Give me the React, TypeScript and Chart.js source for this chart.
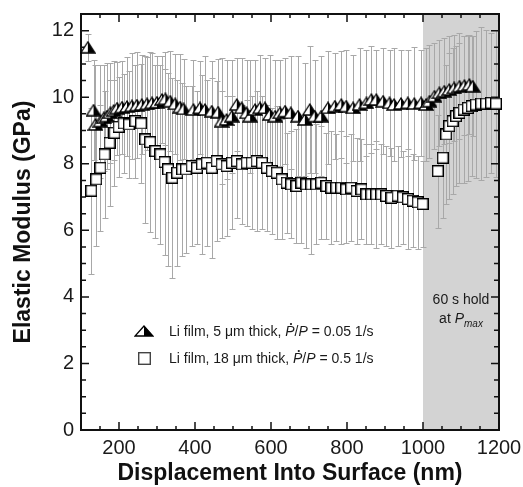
import React, { useEffect, useRef } from "react";
import { Chart, registerables } from "chart.js";

Chart.register(...registerables);

// ---------------- DATA ----------------
// Li film, 5 µm thick (half-filled triangles)
const triX = [118, 133, 138, 151, 160, 168, 177, 186, 195, 208, 221, 234, 247, 260, 274, 287, 300, 313, 322, 335, 348, 361, 370, 396, 413, 426, 444, 461, 470, 483, 497, 510, 523, 536, 545, 558, 571, 584, 597, 611, 624, 637, 652, 671, 689, 702, 715, 732, 750, 768, 785, 798, 816, 833, 851, 864, 877, 895, 912, 924, 942, 960, 977, 995, 1008, 1017, 1030, 1043, 1056, 1069, 1082, 1096, 1109, 1122, 1131];
const triY = [11.5, 9.61, 9.18, 9.28, 9.38, 9.43, 9.53, 9.6, 9.67, 9.7, 9.72, 9.74, 9.76, 9.78, 9.8, 9.83, 9.85, 9.93, 9.95, 9.88, 9.8, 9.7, 9.65, 9.63, 9.68, 9.63, 9.58, 9.55, 9.28, 9.33, 9.43, 9.78, 9.68, 9.53, 9.43, 9.63, 9.68, 9.68, 9.48, 9.43, 9.53, 9.58, 9.53, 9.43, 9.33, 9.63, 9.43, 9.43, 9.68, 9.73, 9.78, 9.73, 9.68, 9.78, 9.83, 9.93, 9.93, 9.88, 9.83, 9.78, 9.81, 9.83, 9.81, 9.83, 9.78, 9.88, 10.03, 10.13, 10.18, 10.23, 10.28, 10.33, 10.35, 10.38, 10.33];
const triErr = [0.4, 1.5, 1.8, 1.7, 1.6, 1.6, 1.5, 1.5, 1.4, 1.4, 1.5, 1.6, 1.6, 1.5, 1.4, 1.5, 1.4, 1.3, 1.4, 1.5, 1.5, 1.6, 1.5, 1.5, 1.4, 1.6, 1.5, 1.6, 1.9, 1.8, 1.7, 1.4, 1.5, 1.6, 1.7, 1.5, 1.6, 1.5, 1.8, 1.7, 1.6, 1.6, 1.7, 1.8, 1.7, 1.9, 1.7, 1.8, 1.7, 1.6, 1.6, 1.7, 1.6, 1.7, 1.6, 1.6, 1.5, 1.6, 1.6, 1.7, 1.6, 1.6, 1.7, 1.6, 1.7, 1.7, 1.6, 1.6, 1.6, 1.6, 1.6, 1.6, 1.5, 1.5, 1.5];

// Li film, 18 µm thick (open squares)
const sqX = [127, 140, 151, 162, 175, 188, 199, 212, 226, 243, 258, 269, 282, 296, 309, 320, 329, 340, 353, 366, 376, 391, 405, 418, 431, 444, 457, 470, 483, 497, 510, 523, 536, 549, 562, 576, 589, 602, 615, 628, 641, 653, 667, 680, 693, 706, 719, 732, 746, 759, 772, 785, 798, 811, 825, 838, 851, 864, 877, 890, 903, 917, 933, 947, 960, 973, 986, 999, 1039, 1052, 1061, 1069, 1078, 1087, 1096, 1107, 1118, 1128, 1139, 1153, 1166, 1179, 1192];
const sqY = [7.19, 7.53, 7.88, 8.28, 8.63, 8.93, 9.11, 9.21, 9.18, 9.28, 9.21, 8.73, 8.65, 8.38, 8.28, 8.05, 7.83, 7.58, 7.73, 7.83, 7.83, 7.93, 7.88, 7.98, 8.03, 7.88, 8.08, 7.98, 7.93, 8.03, 8.08, 7.98, 8.03, 8.03, 8.08, 8.03, 7.88, 7.78, 7.73, 7.53, 7.43, 7.38, 7.33, 7.43, 7.38, 7.38, 7.38, 7.43, 7.33, 7.28, 7.28, 7.28, 7.23, 7.28, 7.18, 7.23, 7.08, 7.08, 7.08, 7.08, 7.03, 6.98, 7.04, 6.99, 6.94, 6.89, 6.84, 6.79, 7.78, 8.18, 8.88, 9.13, 9.28, 9.43, 9.53, 9.63, 9.68, 9.73, 9.78, 9.81, 9.81, 9.83, 9.81];
const sqErr = [2.5, 2.0, 1.9, 1.9, 1.9, 1.6, 1.5, 1.5, 1.6, 1.7, 1.8, 2.5, 2.7, 2.6, 2.7, 2.8, 2.9, 3.0, 2.8, 2.6, 2.5, 2.4, 2.3, 2.7, 2.5, 2.7, 2.4, 2.2, 2.1, 2.0, 1.7, 1.8, 1.9, 2.0, 2.1, 2.0, 1.9, 1.9, 2.0, 1.8, 1.5, 1.6, 1.7, 1.8, 1.9, 2.1, 1.8, 1.7, 1.6, 1.7, 1.6, 1.7, 1.6, 1.6, 1.6, 1.5, 1.5, 1.5, 1.6, 1.5, 1.5, 1.5, 1.5, 1.4, 1.5, 1.4, 1.4, 1.3, 1.7, 1.8, 2.1, 2.2, 2.2, 2.1, 2.1, 2.2, 2.2, 2.1, 2.2, 2.3, 2.2, 2.1, 2.2];

const xTickValues = [200, 400, 600, 800, 1000, 1200];
const yTickValues = [0, 2, 4, 6, 8, 10, 12];
const xRange = [100, 1200];
const yRange = [0, 12.5];
const holdRange = [1000, 1200];

const xTitle = "Displacement Into Surface (nm)";
const yTitle = "Elastic Modulus (GPa)";

type Seg = { t: string; italic?: boolean; sub?: boolean; dot?: boolean };
const legend1: Seg[] = [
  { t: "Li film, 5 \u03bcm thick, " },
  { t: "P", italic: true, dot: true },
  { t: "/" },
  { t: "P", italic: true },
  { t: " = 0.05 1/s" },
];
const legend2: Seg[] = [
  { t: "Li film, 18 \u03bcm thick, " },
  { t: "P", italic: true, dot: true },
  { t: "/" },
  { t: "P", italic: true },
  { t: " = 0.5 1/s" },
];
const holdLine1: Seg[] = [{ t: "60 s hold" }];
const holdLine2: Seg[] = [{ t: "at " }, { t: "P", italic: true }, { t: "max", italic: true, sub: true }];

const FONT = "'Liberation Sans', Arial, Helvetica, sans-serif";

// ---------------- helpers ----------------
function makeTriangle(w: number, h: number): HTMLCanvasElement {
  const c = document.createElement("canvas");
  c.width = w + 2;
  c.height = h + 2;
  const ctx = c.getContext("2d")!;
  const ax = (w + 2) / 2, ay = 1, by = h + 1, lx = 1, rx = w + 1;
  ctx.beginPath();
  ctx.moveTo(ax, ay);
  ctx.lineTo(lx, by);
  ctx.lineTo(rx, by);
  ctx.closePath();
  ctx.fillStyle = "#ffffff";
  ctx.fill();
  ctx.beginPath();
  ctx.moveTo(ax, ay);
  ctx.lineTo(rx, by);
  ctx.lineTo(ax, by);
  ctx.closePath();
  ctx.fillStyle = "#000000";
  ctx.fill();
  ctx.beginPath();
  ctx.moveTo(ax, ay);
  ctx.lineTo(lx, by);
  ctx.lineTo(rx, by);
  ctx.closePath();
  ctx.lineWidth = 1.3;
  ctx.strokeStyle = "#000000";
  ctx.stroke();
  return c;
}

function makeSquare(s: number, stroke: string): HTMLCanvasElement {
  const c = document.createElement("canvas");
  c.width = s;
  c.height = s;
  const ctx = c.getContext("2d")!;
  ctx.fillStyle = "#ffffff";
  ctx.fillRect(0, 0, s, s);
  ctx.strokeStyle = stroke;
  ctx.lineWidth = 1.4;
  ctx.strokeRect(0.7, 0.7, s - 1.4, s - 1.4);
  return c;
}

function segFont(seg: Seg, size: number) {
  const sz = seg.sub ? Math.round(size * 0.7) : size;
  return `${seg.italic ? "italic " : ""}${sz}px ${FONT}`;
}

function richWidth(ctx: CanvasRenderingContext2D, segs: Seg[], size: number) {
  let w = 0;
  for (const s of segs) {
    ctx.font = segFont(s, size);
    w += ctx.measureText(s.t).width;
  }
  return w;
}

function drawRich(ctx: CanvasRenderingContext2D, segs: Seg[], x: number, y: number, size: number, align: "left" | "center") {
  let cx = align === "center" ? x - richWidth(ctx, segs, size) / 2 : x;
  ctx.textBaseline = "alphabetic";
  ctx.textAlign = "left";
  const base = y + size * 0.36;
  for (const s of segs) {
    ctx.font = segFont(s, size);
    const w = ctx.measureText(s.t).width;
    const by = s.sub ? base + size * 0.25 : base;
    ctx.fillText(s.t, cx, by);
    if (s.dot) {
      ctx.beginPath();
      ctx.arc(cx + w * 0.62, base - size * 0.86, 1.1, 0, Math.PI * 2);
      ctx.fill();
    }
    cx += w;
  }
}

// ---------------- plugins ----------------
const backgroundPlugin = {
  id: "holdAndErrors",
  beforeDatasetsDraw(chart: any) {
    const { ctx, chartArea: a, scales } = chart;
    const xs = scales.x, ys = scales.y;
    ctx.save();
    // hold region
    const x0 = xs.getPixelForValue(holdRange[0]);
    const x1 = xs.getPixelForValue(holdRange[1]);
    ctx.fillStyle = "#d3d3d3";
    ctx.fillRect(x0, a.top, x1 - x0, a.bottom - a.top);

    // error bars
    ctx.save();
    ctx.beginPath();
    ctx.rect(a.left, a.top, a.right - a.left, a.bottom - a.top);
    ctx.clip();
    ctx.strokeStyle = "#a8a8a8";
    ctx.lineWidth = 1;
    const drawSet = (X: number[], Y: number[], E: number[]) => {
      for (let i = 0; i < X.length; i++) {
        const px = Math.round(xs.getPixelForValue(X[i])) + 0.5;
        const t = Math.round(ys.getPixelForValue(Y[i] + E[i])) + 0.5;
        const b = Math.round(ys.getPixelForValue(Y[i] - E[i])) + 0.5;
        ctx.beginPath();
        ctx.moveTo(px, t);
        ctx.lineTo(px, b);
        ctx.moveTo(px - 3, t);
        ctx.lineTo(px + 3, t);
        ctx.moveTo(px - 3, b);
        ctx.lineTo(px + 3, b);
        ctx.stroke();
      }
    };
    drawSet(triX, triY, triErr);
    drawSet(sqX, sqY, sqErr);
    ctx.restore();

    // frame
    ctx.strokeStyle = "#111";
    ctx.lineWidth = 2;
    ctx.strokeRect(a.left, a.top, a.right - a.left, a.bottom - a.top);

    // inward ticks on four sides
    ctx.lineWidth = 1.5;
    ctx.beginPath();
    for (let v = xRange[0]; v <= xRange[1] + 1e-6; v += 50) {
      const px = xs.getPixelForValue(v);
      const len = v % 200 === 0 ? 8 : 4;
      ctx.moveTo(px, a.bottom);
      ctx.lineTo(px, a.bottom - len);
      ctx.moveTo(px, a.top);
      ctx.lineTo(px, a.top + len);
    }
    for (let v = yRange[0]; v <= yRange[1] + 1e-6; v += 0.5) {
      const py = ys.getPixelForValue(v);
      const len = Math.abs(v % 2) < 1e-6 ? 8 : 5;
      ctx.moveTo(a.left, py);
      ctx.lineTo(a.left + len, py);
      ctx.moveTo(a.right, py);
      ctx.lineTo(a.right - len, py);
    }
    ctx.stroke();
    ctx.restore();
  },
};

const makeAnnotationPlugin = (triLegend: HTMLCanvasElement, sqLegend: HTMLCanvasElement) => ({
  id: "annotations",
  afterDatasetsDraw(chart: any) {
    const { ctx, chartArea: a, scales } = chart;
    const xs = scales.x;
    ctx.save();
    ctx.fillStyle = "#1a1a1a";
    // hold text
    const cx = (xs.getPixelForValue(holdRange[0]) + xs.getPixelForValue(holdRange[1])) / 2;
    drawRich(ctx, holdLine1, cx, a.top + 285, 14, "center");
    drawRich(ctx, holdLine2, cx, a.top + 304, 14, "center");
    // legend
    const mx = a.left + 63;
    const y1 = a.top + 317;
    const y2 = a.top + 344;
    ctx.drawImage(triLegend, Math.round(mx - triLegend.width / 2), Math.round(y1 - triLegend.height / 2));
    ctx.drawImage(sqLegend, Math.round(mx - sqLegend.width / 2), Math.round(y2 - sqLegend.height / 2));
    drawRich(ctx, legend1, a.left + 88, y1, 14, "left");
    drawRich(ctx, legend2, a.left + 88, y2, 14, "left");
    ctx.restore();
  },
});

export default function App() {
  const ref = useRef<HTMLCanvasElement>(null);
  useEffect(() => {
    const canvas = ref.current;
    if (!canvas) return;
    const triImg = makeTriangle(14, 11);
    const sqImg = makeSquare(12, "#000");
    const triLegend = makeTriangle(18, 10);
    const sqLegend = makeSquare(13, "#444");

    const chart = new Chart(canvas, {
      type: "scatter",
      data: {
        datasets: [
          {
            label: "Li film, 18 µm thick",
            data: sqX.map((x, i) => ({ x, y: sqY[i] })),
            pointStyle: sqImg as any,
            showLine: false,
            order: 0,
            clip: false as any,
          },
          {
            label: "Li film, 5 µm thick",
            data: triX.map((x, i) => ({ x, y: triY[i] })),
            pointStyle: triImg as any,
            showLine: false,
            order: 1,
            clip: false as any,
          },
        ],
      },
      options: {
        animation: false,
        responsive: false,
        events: [],
        layout: { padding: { top: 14, right: 24, left: 0, bottom: 0 } },
        plugins: { legend: { display: false }, tooltip: { enabled: false } },
        scales: {
          x: {
            type: "linear",
            min: xRange[0],
            max: xRange[1],
            afterBuildTicks: (s: any) => {
              s.ticks = xTickValues.map((v) => ({ value: v }));
            },
            afterFit: (s: any) => {
              s.height = 57;
              s.paddingLeft = 0;
              s.paddingRight = 0;
            },
            grid: { display: false, drawTicks: false },
            border: { display: false },
            ticks: {
              autoSkip: false,
              maxRotation: 0,
              padding: 6,
              color: "#1a1a1a",
              font: { size: 20, family: FONT },
              callback: (v: any) => String(v),
            },
            title: {
              display: true,
              text: xTitle,
              color: "#111",
              font: { size: 23, weight: "bold", family: FONT },
              padding: { top: 0, bottom: 0 },
            },
          },
          y: {
            type: "linear",
            min: yRange[0],
            max: yRange[1],
            afterBuildTicks: (s: any) => {
              s.ticks = yTickValues.map((v) => ({ value: v }));
            },
            afterFit: (s: any) => {
              s.width = 81;
              s.paddingTop = 0;
              s.paddingBottom = 0;
            },
            grid: { display: false, drawTicks: false },
            border: { display: false },
            ticks: {
              autoSkip: false,
              padding: 7,
              color: "#1a1a1a",
              font: { size: 20, family: FONT },
              callback: (v: any) => String(v),
            },
            title: {
              display: true,
              text: yTitle,
              color: "#111",
              font: { size: 23, weight: "bold", family: FONT },
              padding: { top: 10, bottom: 0 },
            },
          },
        },
      },
      plugins: [backgroundPlugin, makeAnnotationPlugin(triLegend, sqLegend)],
    } as any);
    return () => chart.destroy();
  }, []);

  return (
    <div style={{ position: "absolute", left: 0, top: 0, width: 523, height: 487, background: "#fff" }}>
      <canvas ref={ref} width={523} height={487} style={{ display: "block" }} />
    </div>
  );
}
